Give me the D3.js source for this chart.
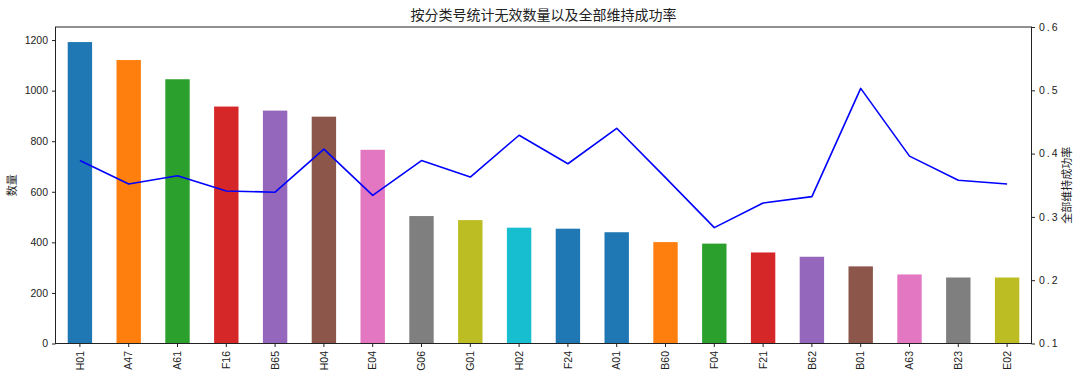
<!DOCTYPE html>
<html lang="zh">
<head>
    <meta charset="UTF-8">
    <title>按分类号统计无效数量以及全部维持成功率</title>
    <style>
        body { margin: 0; background: #fff; }
        svg { display: block; font-family: "Noto Sans CJK SC", "DejaVu Sans", sans-serif; }
        .tick text { fill: #222; }
    </style>
</head>
<body>
    <div id="chart"></div>

    <script src="https://cdn.jsdelivr.net/npm/d3@7"></script>
    <script>
        const categories = ['H01', 'A47', 'A61', 'F16', 'B65', 'H04', 'E04', 'G06', 'G01', 'H02',
            'F24', 'A01', 'B60', 'F04', 'F21', 'B62', 'B01', 'A63', 'B23', 'E02']
        const counts = [1192, 1121, 1045, 937, 921, 897, 766, 504, 488, 458,
            454, 440, 401, 395, 360, 343, 305, 273, 261, 261]
        const rates = [0.389, 0.352, 0.365, 0.341, 0.339, 0.407, 0.334, 0.389, 0.363, 0.429,
            0.384, 0.440, 0.362, 0.283, 0.322, 0.332, 0.503, 0.396, 0.358, 0.352]
        const countTicks = [0, 200, 400, 600, 800, 1000, 1200]
        const rateTicks = [0.1, 0.2, 0.3, 0.4, 0.5, 0.6]

        const width = 1080
        const height = 378
        const plotLeft = 55.5
        const plotRight = 1031.5
        const plotTop = 27
        const plotBottom = 343.5

        const svg = d3.select('#chart')
            .append('svg')
            .attr('width', width)
            .attr('height', height)

        const x = d3.scaleBand()
            .domain(categories)
            .range([plotLeft, plotRight])
            .paddingInner(0.5)
            .paddingOuter(0.25)

        const y = d3.scaleLinear()
            .domain([0, d3.max(counts) * 1.05])
            .range([plotBottom, plotTop])

        const y2 = d3.scaleLinear()
            .domain([0.1, 0.6])
            .range([plotBottom, plotTop])

        // 颜色循环：第11、12根柱子都是蓝色，之后重新从头开始
        const palette = d3.schemeCategory10
        const barColor = i => palette[i <= 10 ? i % 10 : i - 11]

        // 柱子
        svg.append('g')
            .selectAll('rect')
            .data(categories)
            .join('rect')
            .attr('x', d => x(d))
            .attr('width', x.bandwidth())
            .attr('y', (d, i) => y(counts[i]))
            .attr('height', (d, i) => plotBottom - y(counts[i]))
            .attr('fill', (d, i) => barColor(i))

        // 成功率折线
        const line = d3.line()
            .x((d, i) => x(categories[i]) + x.bandwidth() / 2)
            .y(d => y2(d))

        svg.append('path')
            .datum(rates)
            .attr('fill', 'none')
            .attr('stroke', '#0000ff')
            .attr('stroke-width', 1.6)
            .attr('stroke-linejoin', 'round')
            .attr('d', line)

        // 边框
        svg.append('rect')
            .attr('x', plotLeft)
            .attr('y', plotTop)
            .attr('width', plotRight - plotLeft)
            .attr('height', plotBottom - plotTop)
            .attr('fill', 'none')
            .attr('stroke', '#222')
            .attr('stroke-width', 1)

        // 坐标轴
        const axisStyle = g => {
            g.select('.domain').remove()
            g.selectAll('.tick line').attr('stroke', '#222')
            g.selectAll('.tick text').style('font-size', '10.5px')
        }

        svg.append('g')
            .attr('transform', `translate(${plotLeft}, 0)`)
            .call(d3.axisLeft(y).tickValues(countTicks).tickSize(3.5).tickPadding(4)
                .tickFormat(d3.format('d')))
            .call(axisStyle)

        svg.append('g')
            .attr('transform', `translate(${plotRight}, 0)`)
            .call(d3.axisRight(y2).tickValues(rateTicks).tickSize(3.5).tickPadding(4)
                .tickFormat(d3.format('.1f')))
            .call(axisStyle)
            .selectAll('.tick text')
            .attr('letter-spacing', '2px')

        svg.append('g')
            .attr('transform', `translate(0, ${plotBottom})`)
            .call(d3.axisBottom(x).tickSize(3.5).tickPadding(4))
            .call(axisStyle)
            .selectAll('.tick text')
            .attr('transform', 'rotate(-90)')
            .attr('text-anchor', 'end')
            .attr('dy', '0.35em')
            .attr('x', -7.5)
            .attr('y', 0)

        // 标题和轴标题
        svg.append('text')
            .attr('x', (plotLeft + plotRight) / 2)
            .attr('y', 20)
            .attr('text-anchor', 'middle')
            .style('font-size', '14px')
            .attr('fill', '#222')
            .text('按分类号统计无效数量以及全部维持成功率')

        svg.append('text')
            .attr('transform', `translate(16, ${(plotTop + plotBottom) / 2}) rotate(-90)`)
            .attr('text-anchor', 'middle')
            .style('font-size', '11px')
            .attr('fill', '#222')
            .text('数量')

        svg.append('text')
            .attr('transform', `translate(1071, ${(plotTop + plotBottom) / 2}) rotate(-90)`)
            .attr('text-anchor', 'middle')
            .style('font-size', '11px')
            .attr('fill', '#222')
            .text('全部维持成功率')
    </script>
</body>
</html>
